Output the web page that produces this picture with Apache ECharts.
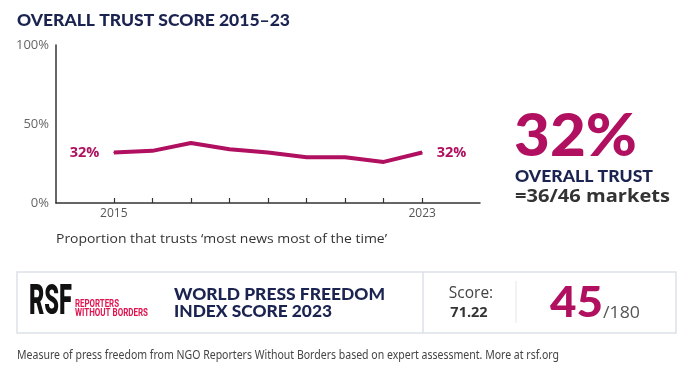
<!DOCTYPE html>
<html>
<head>
<meta charset="utf-8">
<script src="https://cdn.jsdelivr.net/npm/echarts@6/dist/echarts.min.js"></script>
<style>
  html, body { margin: 0; padding: 0; background: #fff; }
  #chart { width: 700px; height: 376px; }
</style>
</head>
<body>
<div id="chart"></div>
<script>
// overall trust line + RSF box

var years = [2015, 2016, 2017, 2018, 2019, 2020, 2021, 2022, 2023];
var trust = [32, 33, 38, 34, 32, 29, 29, 26, 32];
var yTicks = [0, 50, 100];
var xLabelYears = [2015, 2023];
var headline = '32%';
var markets = '=36/46 markets';
var rsfScore = '71.22';
var rsfRank = '45';
var rsfTotal = '/180';

var magenta = '#b0105f';
var navy = '#1b2350';

var myChart = echarts.init(document.getElementById('chart'));

// squeeze/stretch a text so it spans the same width as in the picture
var ctx = document.createElement('canvas').getContext('2d');
function txt(x, y, text, font, fill, w, extra) {
    ctx.font = font;
    var lines = text.split('\n');
    var mw = Math.max.apply(null, lines.map(function (l) { return ctx.measureText(l).width; }));
    var el = {
        type: 'text', x: x, y: y, scaleX: w ? w / mw : 1,
        style: { text: text, font: font, fill: fill, verticalAlign: 'middle' }
    };
    if (extra) Object.keys(extra).forEach(function (k) { el.style[k] = extra[k]; });
    return el;
}

var points = years.map(function (y, i) { return [y, trust[i]]; });
var last = points.length - 1;

var option = {
    animation: false,
    grid: { left: 56, right: 220, top: 45, bottom: 173 },
    xAxis: {
        type: 'value',
        min: 2013.5,
        max: 2024.5,
        splitLine: { show: false },
        axisLine: { lineStyle: { color: '#333', width: 1.5 } },
        axisTick: {
            inside: true, length: 5,
            customValues: years,
            lineStyle: { color: '#333', width: 1.2 }
        },
        axisLabel: {
            customValues: xLabelYears,
            color: '#555', fontSize: 12, fontFamily: 'Open Sans', margin: 5,
            formatter: function (v) { return String(v); }
        }
    },
    yAxis: {
        type: 'value',
        min: 0,
        max: 100,
        splitLine: { show: false },
        axisLine: { show: true, lineStyle: { color: '#333', width: 1.5 } },
        axisTick: { show: false },
        axisLabel: {
            customValues: yTicks,
            color: '#666', fontSize: 13, fontFamily: 'Open Sans', margin: 7,
            formatter: '{value}%'
        }
    },
    series: [{
        type: 'line',
        data: points.map(function (p, i) {
            var d = { value: p };
            if (i === 0 || i === last) {
                d.label = {
                    show: true,
                    position: i === 0 ? 'left' : 'right',
                    distance: i === 0 ? 14 : 14,
                    formatter: function (o) { return o.value[1] + '%'; },
                    color: magenta, fontSize: 14.5, fontWeight: 'bold',
                    fontFamily: 'Open Sans'
                };
            }
            return d;
        }),
        symbol: 'circle',
        symbolSize: 1,
        itemStyle: { color: magenta },
        lineStyle: { color: magenta, width: 4 }
    }],
    graphic: [
        txt(17, 21, 'OVERALL TRUST SCORE 2015–23', '900 17px Lato', navy, 273),
        txt(56, 239, 'Proportion that trusts ‘most news most of the time’', '13.5px "Open Sans"', '#333', 331),

        txt(514, 137, headline, '900 59px Lato', magenta, 123),
        txt(515, 177, 'OVERALL TRUST', '900 16px Lato', navy, 138),
        txt(515, 197, markets, 'bold 17px "Open Sans"', '#333', 155),

        // bottom box
        { type: 'rect', shape: { x: 17, y: 272, width: 659, height: 61 },
          style: { fill: '#fff', stroke: '#dde1e8', lineWidth: 1.5 } },
        { type: 'line', shape: { x1: 423, y1: 272, x2: 423, y2: 333 },
          style: { stroke: '#dde1e8', lineWidth: 1.5 } },
        { type: 'line', shape: { x1: 516, y1: 281, x2: 516, y2: 323 },
          style: { stroke: '#e3e6eb', lineWidth: 1 } },

        txt(29, 303, 'RSF', '900 42px Roboto', '#111', 43, { letterSpacing: -3 }),
        txt(75, 304, 'REPORTERS', 'bold 10px Roboto', '#e0134f', 44),
        txt(75, 313, 'WITHOUT BORDERS', 'bold 10px Roboto', '#e0134f', 73),

        txt(174, 295, 'WORLD PRESS FREEDOM', '900 17px Lato', navy, 211),
        txt(174, 312, 'INDEX SCORE 2023', '900 17px Lato', navy, 158),

        txt(471, 294, 'Score:', '15.5px "Open Sans"', '#444', 0, { align: 'center' }),
        txt(469, 313, rsfScore, 'bold 14.5px "Open Sans"', '#333', 0, { align: 'center' }),

        txt(550, 303, rsfRank, '900 42px Lato', magenta, 53),
        txt(603, 313, rsfTotal, '16.5px "Open Sans"', '#555', 37),

        txt(17, 355, 'Measure of press freedom from NGO Reporters Without Borders based on expert assessment. More at rsf.org',
            '12.5px "Noto Sans"', '#444', 542)
    ]
};

myChart.setOption(option);
</script>
</body>
</html>
